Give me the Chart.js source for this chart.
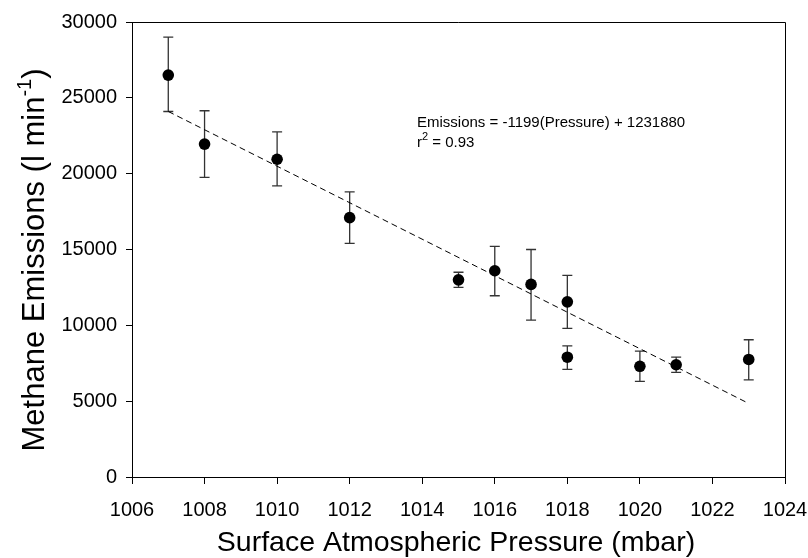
<!DOCTYPE html>
<html>
<head>
<meta charset="utf-8">
<script src="https://cdn.jsdelivr.net/npm/chart.js@4"></script>
<style>
  html, body { margin: 0; padding: 0; background: #fff; }
  #wrap { width: 808px; height: 558px; }
</style>
</head>
<body>
<div id="wrap"><canvas id="methaneChart" width="808" height="558"></canvas></div>
<script>
const pressure = [1007, 1008, 1010, 1012, 1015, 1016, 1017, 1018, 1018, 1020, 1021, 1023];
const emissions = [26500, 21950, 20950, 17100, 13000, 13600, 12700, 11550, 7900, 7300, 7400, 7750];
const errUpper = [29000, 24150, 22750, 18800, 13500, 15200, 15000, 13300, 8650, 8300, 7900, 9050];
const errLower = [24100, 19750, 19200, 15400, 12500, 11950, 10350, 9800, 7100, 6300, 6900, 6400];

// regression line, end points as drawn
const fitX = [1007, 1023];
const fitY = [24100, 4850];

const xTicks = [1006, 1008, 1010, 1012, 1014, 1016, 1018, 1020, 1022, 1024];
const yTicks = [0, 5000, 10000, 15000, 20000, 25000, 30000];

const FONT = "'Liberation Sans', Arial, Helvetica, sans-serif";

const errorBars = {
    id: 'errorBars',
    beforeDatasetsDraw(chart) {
        const ctx = chart.ctx;
        const xs = chart.scales.x, ys = chart.scales.y;
        ctx.save();
        ctx.strokeStyle = '#333';
        ctx.lineWidth = 1.3;
        pressure.forEach((p, i) => {
            const x = xs.getPixelForValue(p);
            const top = ys.getPixelForValue(errUpper[i]);
            const bot = ys.getPixelForValue(errLower[i]);
            ctx.beginPath();
            ctx.moveTo(x, top); ctx.lineTo(x, bot);
            ctx.moveTo(x - 5, top); ctx.lineTo(x + 5, top);
            ctx.moveTo(x - 5, bot); ctx.lineTo(x + 5, bot);
            ctx.stroke();
        });
        ctx.restore();
    }
};

const frameAndText = {
    id: 'frameAndText',
    afterDraw(chart) {
        const ctx = chart.ctx;
        const a = chart.chartArea;
        ctx.save();
        // top and right border of the box
        ctx.strokeStyle = '#000';
        ctx.lineWidth = 1;
        ctx.beginPath();
        ctx.moveTo(a.left, a.top + 0.5);
        ctx.lineTo(a.right + 0.5, a.top + 0.5);
        ctx.lineTo(a.right + 0.5, a.bottom);
        ctx.stroke();

        ctx.fillStyle = '#000';
        // x title
        ctx.font = '28.5px ' + FONT;
        ctx.textAlign = 'center';
        ctx.textBaseline = 'middle';
        ctx.fillText('Surface Atmospheric Pressure (mbar)', 456, 543);

        // y title with superscript
        const main = 'Methane Emissions (l min';
        const sup = '-1';
        const close = ')';
        ctx.font = '31px ' + FONT;
        const w1 = ctx.measureText(main).width;
        const w3 = ctx.measureText(close).width;
        ctx.font = '20px ' + FONT;
        const w2 = ctx.measureText(sup).width;
        const total = w1 + w2 + w3;
        ctx.translate(44, 260);
        ctx.rotate(-Math.PI / 2);
        ctx.textAlign = 'left';
        ctx.textBaseline = 'alphabetic';
        let x0 = -total / 2;
        ctx.font = '31px ' + FONT;
        ctx.fillText(main, x0, 0);
        ctx.font = '20px ' + FONT;
        ctx.fillText(sup, x0 + w1, -13);
        ctx.font = '31px ' + FONT;
        ctx.fillText(close, x0 + w1 + w2, 0);
        ctx.setTransform(1, 0, 0, 1, 0, 0);

        // regression annotation
        ctx.font = '15px ' + FONT;
        ctx.textAlign = 'left';
        ctx.textBaseline = 'alphabetic';
        ctx.fillText('Emissions = -1199(Pressure) + 1231880', 417, 127);
        ctx.fillText('r', 417, 147);
        const rw = ctx.measureText('r').width;
        ctx.font = '11px ' + FONT;
        ctx.fillText('2', 417 + rw, 140);
        const sw = ctx.measureText('2').width;
        ctx.font = '15px ' + FONT;
        ctx.fillText(' = 0.93', 417 + rw + sw, 147);
        ctx.restore();
    }
};

new Chart(document.getElementById('methaneChart'), {
    type: 'scatter',
    data: {
        datasets: [
            {
                type: 'line',
                data: fitX.map((x, i) => ({ x: x, y: fitY[i] })),
                borderColor: '#000',
                borderWidth: 1,
                borderDash: [6, 4],
                pointRadius: 0,
                fill: false,
                order: 2
            },
            {
                data: pressure.map((p, i) => ({ x: p, y: emissions[i] })),
                backgroundColor: '#000',
                borderColor: '#000',
                borderWidth: 0,
                pointRadius: 5.8,
                order: 1
            }
        ]
    },
    options: {
        responsive: false,
        animation: false,
        layout: { padding: { left: 0, top: 22, right: 23, bottom: 0 } },
        plugins: {
            legend: { display: false },
            tooltip: { enabled: false }
        },
        scales: {
            x: {
                type: 'linear',
                min: 1006,
                max: 1024,
                afterBuildTicks: scale => { scale.ticks = xTicks.map(v => ({ value: v })); },
                afterFit: scale => {
                    scale.height = 81;
                    scale.paddingLeft = 0;
                    scale.paddingRight = 0;
                },
                border: { display: true, color: '#000', width: 1 },
                grid: { drawOnChartArea: false, drawTicks: true, tickLength: 7, color: '#000' },
                ticks: {
                    color: '#000',
                    font: { family: FONT, size: 20 },
                    padding: 14,
                    maxRotation: 0,
                    callback: v => String(v)
                }
            },
            y: {
                type: 'linear',
                min: 0,
                max: 30000,
                afterBuildTicks: scale => { scale.ticks = yTicks.map(v => ({ value: v })); },
                afterFit: scale => {
                    scale.width = 132;
                    scale.paddingTop = 0;
                    scale.paddingBottom = 0;
                },
                border: { display: true, color: '#000', width: 1 },
                grid: { drawOnChartArea: false, drawTicks: true, tickLength: 6, color: '#000' },
                ticks: {
                    color: '#000',
                    font: { family: FONT, size: 20 },
                    padding: 9,
                    callback: v => String(v)
                }
            }
        }
    },
    plugins: [errorBars, frameAndText]
});
</script>
</body>
</html>
